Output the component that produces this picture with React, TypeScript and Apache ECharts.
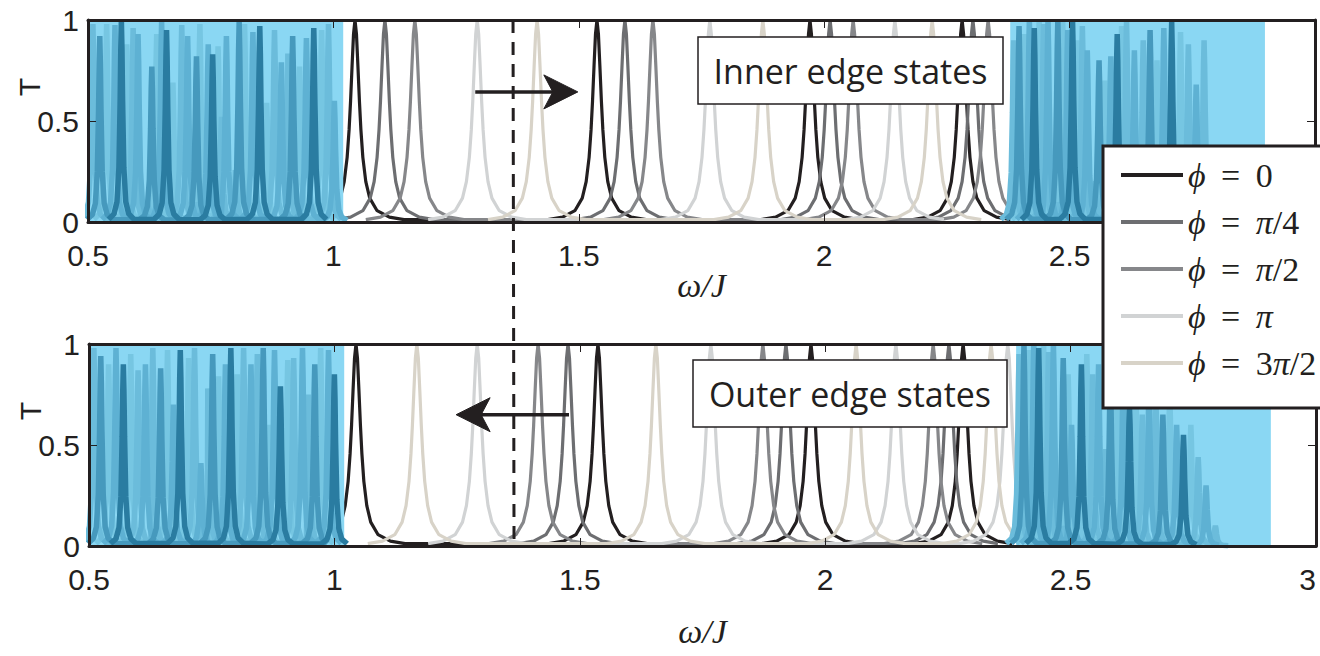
import React, { useEffect, useRef } from 'react';
import * as echarts from 'echarts';

// ---------- data ----------
const PHI_NAMES = ['ϕ = 0', 'ϕ = π/4', 'ϕ = π/2', 'ϕ = π', 'ϕ = 3π/2'];
const PHI_COLORS = ['#231f20', '#6d6e71', '#86878a', '#d1d3d4', '#d8d3c8'];

// resonance peak positions (ω/J) of the inner edge states (top panel)
const INNER_PHI_0 = [1.044, 1.537, 1.971, 2.281];
const INNER_PHI_PI4 = [1.105, 1.594, 2.012, 2.303];
const INNER_PHI_PI2 = [1.166, 1.651, 2.059, 2.334];
const INNER_PHI_PI = [1.293, 1.767, 2.144];
const INNER_PHI_3PI2 = [1.415, 1.875, 2.220];

// resonance peak positions (ω/J) of the outer edge states (bottom panel)
const OUTER_PHI_0 = [1.044, 1.537, 1.971, 2.281];
const OUTER_PHI_PI4 = [1.476, 1.920, 2.252];
const OUTER_PHI_PI2 = [1.415, 1.873, 2.220];
const OUTER_PHI_PI = [1.291, 1.767, 2.144, 2.372];
const OUTER_PHI_3PI2 = [1.168, 1.655, 2.063, 2.338];

// shape of one edge-state resonance (offset in ω/J, T)
const PEAK_DX = [-0.1, -0.07, -0.045, -0.03, -0.022, -0.016, -0.012, -0.009, -0.006, -0.003, 0, 0.003, 0.006, 0.009, 0.012, 0.016, 0.022, 0.03, 0.045, 0.07, 0.1];
const PEAK_T = [0.012, 0.024, 0.056, 0.118, 0.2, 0.32, 0.457, 0.6, 0.77, 0.93, 1, 0.93, 0.77, 0.6, 0.457, 0.32, 0.2, 0.118, 0.056, 0.024, 0.012];

// bulk bands (shaded)
const TOP_BANDS = [[0.5, 1.02], [2.379, 2.898]];
const BOTTOM_BANDS = [[0.5, 1.02], [2.389, 2.908]];

// bulk-state resonances (position, peak T)
const TOP_BULK_LOW_X = [0.510, 0.524, 0.538, 0.555, 0.568, 0.579, 0.592, 0.602, 0.612, 0.630, 0.640, 0.650, 0.660, 0.673, 0.691, 0.703, 0.712, 0.721, 0.728, 0.745, 0.754, 0.765, 0.772, 0.782, 0.795, 0.808, 0.819, 0.836, 0.850, 0.864, 0.880, 0.894, 0.906, 0.917, 0.931, 0.945, 0.960, 0.976, 0.990, 1.002];
const TOP_BULK_LOW_T = [0.98, 0.92, 0.98, 0.975, 1.0, 0.88, 0.96, 0.93, 0.95, 0.77, 0.93, 0.99, 0.95, 0.69, 0.975, 0.92, 0.97, 0.82, 0.98, 0.88, 0.83, 0.87, 0.52, 0.92, 0.95, 0.99, 0.98, 0.94, 0.97, 0.59, 0.95, 0.79, 0.97, 0.92, 0.77, 0.91, 0.96, 0.95, 0.98, 0.6];
const TOP_BULK_HIGH_X = [2.386, 2.397, 2.408, 2.418, 2.428, 2.438, 2.447, 2.456, 2.466, 2.476, 2.486, 2.496, 2.506, 2.516, 2.526, 2.536, 2.548, 2.560, 2.572, 2.584, 2.597, 2.606, 2.616, 2.632, 2.650, 2.664, 2.678, 2.692, 2.708, 2.726, 2.742, 2.758, 2.774];
const TOP_BULK_HIGH_T = [0.9, 0.97, 0.93, 1.0, 0.96, 1.0, 0.98, 1.0, 0.97, 1.0, 0.99, 0.95, 1.0, 0.9, 0.97, 0.85, 0.75, 0.8, 0.7, 0.82, 0.93, 0.97, 0.99, 0.85, 0.9, 0.95, 0.8, 0.96, 0.99, 0.94, 0.88, 0.68, 0.9];
const BOTTOM_BULK_LOW_X = [0.510, 0.524, 0.540, 0.555, 0.570, 0.585, 0.600, 0.615, 0.630, 0.646, 0.660, 0.672, 0.686, 0.703, 0.715, 0.728, 0.742, 0.752, 0.764, 0.778, 0.789, 0.802, 0.815, 0.830, 0.843, 0.855, 0.866, 0.878, 0.890, 0.905, 0.917, 0.935, 0.947, 0.960, 0.972, 0.988, 1.000];
const BOTTOM_BULK_LOW_T = [0.98, 0.94, 0.9, 0.98, 0.9, 0.95, 0.87, 0.9, 0.98, 0.88, 0.97, 0.7, 0.97, 0.93, 0.98, 0.41, 0.78, 0.95, 0.84, 0.9, 0.98, 0.85, 0.98, 0.9, 0.95, 0.98, 0.6, 0.97, 0.79, 0.92, 0.93, 0.98, 0.75, 0.9, 0.98, 0.97, 0.85];
const BOTTOM_BULK_HIGH_X = [2.395, 2.405, 2.415, 2.425, 2.435, 2.445, 2.455, 2.465, 2.475, 2.485, 2.495, 2.502, 2.522, 2.533, 2.545, 2.557, 2.569, 2.581, 2.594, 2.607, 2.620, 2.633, 2.646, 2.660, 2.674, 2.688, 2.702, 2.716, 2.730, 2.745, 2.760, 2.776, 2.795];
const BOTTOM_BULK_HIGH_T = [0.95, 1.0, 0.97, 1.0, 0.98, 1.0, 0.96, 1.0, 0.98, 0.93, 0.85, 0.6, 0.9, 0.95, 0.85, 0.9, 0.8, 0.85, 0.75, 0.8, 0.7, 0.75, 0.65, 0.8, 0.7, 0.65, 0.75, 0.6, 0.55, 0.6, 0.44, 0.3, 0.1];

// shape of one bulk resonance (offset, fraction of its peak)
const SPIKE_DX = [-0.026, -0.015, -0.009, -0.005, -0.0025, -0.0012, 0, 0.0012, 0.0025, 0.005, 0.009, 0.015, 0.026];
const SPIKE_T = [0.013, 0.04, 0.1, 0.27, 0.6, 0.86, 1, 0.86, 0.6, 0.27, 0.1, 0.04, 0.013];

const BULK_BG = '#8ad7f3';
const BULK_COLORS = ['#76c6e2', '#6bbcdb', '#5eb1d3', '#4699bd', '#2a7ca1'];
const TONE_ORDER = [1, 3, 0, 2, 4, 0, 1, 2];

// annotations
const DASH_OMEGA = 1.366;
const TOP_ARROW = { from: [1.289, 0.644], to: [1.498, 0.644] };
const BOTTOM_ARROW = { from: [1.478, 0.65], to: [1.248, 0.65] };

const INK = '#231f20';

// ---------- helpers ----------
function peakLine(centers: number[]) {
  const out: number[][] = [];
  centers.forEach((c) => {
    PEAK_DX.forEach((d, k) => out.push([+(c + d).toFixed(4), PEAK_T[k]]));
  });
  return out;
}

function bulkSeries(xs: number[], ts: number[], xi: number, yi: number) {
  const groups: number[][][] = BULK_COLORS.map(() => []);
  xs.forEach((x, i) => {
    const g = groups[TONE_ORDER[i % TONE_ORDER.length]];
    SPIKE_DX.forEach((d, k) => {
      const px = +(x + d).toFixed(4);
      const last = g.length ? g[g.length - 1][0] : -Infinity;
      if (px > last) g.push([px, +(ts[i] * SPIKE_T[k]).toFixed(3)]);
    });
  });
  return groups.map((data, t) => ({
    type: 'line',
    xAxisIndex: xi,
    yAxisIndex: yi,
    data,
    symbol: 'none',
    showSymbol: false,
    silent: true,
    z: 4,
    lineStyle: { color: BULK_COLORS[t], width: 5.5 },
  }));
}

function bandSeries(bands: number[][], xi: number, yi: number) {
  return bands.map((b) => ({
    type: 'line',
    xAxisIndex: xi,
    yAxisIndex: yi,
    data: [[b[0], 1], [b[1], 1]],
    symbol: 'none',
    showSymbol: false,
    silent: true,
    z: 3,
    lineStyle: { width: 0, color: BULK_BG },
    areaStyle: { color: BULK_BG, opacity: 1 },
  }));
}

function phiSeries(sets: number[][], xi: number, yi: number) {
  return sets.map((c, i) => ({
    type: 'line',
    name: PHI_NAMES[i],
    xAxisIndex: xi,
    yAxisIndex: yi,
    data: peakLine(c),
    symbol: 'none',
    showSymbol: false,
    silent: true,
    z: 2,
    color: PHI_COLORS[i],
    lineStyle: { color: PHI_COLORS[i], width: 3.2 },
  }));
}

const tickLabel = { fontFamily: 'Liberation Sans', fontSize: 30, color: INK };
const lineSt = { color: INK, width: 3 };

function xAxes(grid: number, nameGap: number, showMax: boolean) {
  return [
    {
      type: 'value', gridIndex: grid, min: 0.5, max: 3, interval: 0.5, position: 'bottom', z: 10,
      axisLine: { show: true, onZero: false, lineStyle: lineSt },
      axisTick: { show: true, inside: true, length: 8, lineStyle: { color: INK, width: 1 } },
      axisLabel: { ...tickLabel, margin: 18, showMaxLabel: showMax, alignMaxLabel: 'right' },
      splitLine: { show: false },
      name: 'ω/J', nameLocation: 'middle', nameGap, nameMoveOverlap: false,
      nameTextStyle: { fontFamily: 'Liberation Serif', fontStyle: 'italic', fontSize: 34, color: INK, lineHeight: 34 },
    },
    {
      type: 'value', gridIndex: grid, min: 0.5, max: 3, interval: 0.5, position: 'top', z: 10,
      axisLine: { show: true, onZero: false, lineStyle: lineSt },
      axisTick: { show: true, inside: true, length: 8, lineStyle: { color: INK, width: 1 } },
      axisLabel: { show: false },
      splitLine: { show: false },
    },
  ];
}

function yAxes(grid: number) {
  return [
    {
      type: 'value', gridIndex: grid, min: 0, max: 1, interval: 0.5, position: 'left', z: 10,
      axisLine: { show: true, onZero: false, lineStyle: lineSt },
      axisTick: { show: true, inside: true, length: 8, lineStyle: { color: INK, width: 1 } },
      axisLabel: { ...tickLabel, margin: 9 },
      splitLine: { show: false },
      name: 'T', nameLocation: 'middle', nameGap: 44, nameRotate: 90, nameMoveOverlap: false,
      nameTextStyle: { fontFamily: 'Liberation Sans', fontSize: 30, color: INK, lineHeight: 30, padding: [0, 0, 0, 68] },
    },
    {
      type: 'value', gridIndex: grid, min: 0, max: 1, interval: 0.5, position: 'right', z: 10,
      axisLine: { show: true, onZero: false, lineStyle: lineSt },
      axisTick: { show: true, inside: true, length: 8, lineStyle: { color: INK, width: 1 } },
      axisLabel: { show: false },
      splitLine: { show: false },
    },
  ];
}

function legendText(name: string) {
  return name
    .replace(/ϕ/g, '{i|ϕ}')
    .replace(/π/g, '{i|π}')
    .replace(' = ', '{e| = }');
}

export default function App() {
  const ref = useRef<HTMLDivElement>(null);
  useEffect(() => {
    if (!ref.current) return;
    const chart = echarts.init(ref.current, null, { renderer: 'svg' });
    const option: any = {
      animation: false,
      backgroundColor: '#ffffff',
      grid: [
        { left: 88, top: 20, width: 1227, height: 202, outerBoundsMode: 'none', containLabel: false },
        { left: 89, top: 344, width: 1227, height: 202, outerBoundsMode: 'none', containLabel: false },
      ],
      xAxis: [...xAxes(0, 46, false), ...xAxes(1, 68, true)],
      yAxis: [...yAxes(0), ...yAxes(1)],
      legend: {
        data: PHI_NAMES,
        orient: 'vertical',
        left: 1103,
        top: 146,
        z: 20,
        selectedMode: false,
        backgroundColor: '#ffffff',
        borderColor: INK,
        borderWidth: 3,
        borderRadius: 0,
        padding: [12, 60, 28, 18],
        icon: 'rect',
        itemWidth: 62,
        itemHeight: 4,
        itemGap: 13,
        formatter: legendText,
        textStyle: {
          fontFamily: 'Liberation Serif', fontSize: 34, color: INK, lineHeight: 34,
          rich: {
            i: { fontFamily: 'Liberation Serif', fontStyle: 'italic', fontSize: 34, color: INK },
            e: { fontFamily: 'Liberation Serif', fontSize: 34, color: INK, padding: [0, 7, 0, 7] },
          },
        },
      },
      series: [
        ...phiSeries([INNER_PHI_0, INNER_PHI_PI4, INNER_PHI_PI2, INNER_PHI_PI, INNER_PHI_3PI2], 0, 0),
        ...phiSeries([OUTER_PHI_0, OUTER_PHI_PI4, OUTER_PHI_PI2, OUTER_PHI_PI, OUTER_PHI_3PI2], 2, 2),
        ...bandSeries(TOP_BANDS, 0, 0),
        ...bandSeries(BOTTOM_BANDS, 2, 2),
        ...bulkSeries(TOP_BULK_LOW_X, TOP_BULK_LOW_T, 0, 0),
        ...bulkSeries(TOP_BULK_HIGH_X, TOP_BULK_HIGH_T, 0, 0),
        ...bulkSeries(BOTTOM_BULK_LOW_X, BOTTOM_BULK_LOW_T, 2, 2),
        ...bulkSeries(BOTTOM_BULK_HIGH_X, BOTTOM_BULK_HIGH_T, 2, 2),
      ],
    };
    chart.setOption(option);

    const px = (g: number, x: number, y: number) =>
      chart.convertToPixel({ gridIndex: g } as any, [x, y]) as unknown as number[];

    const arrow = (g: number, a: { from: number[]; to: number[] }) => {
      const p0 = px(g, a.from[0], a.from[1]);
      const p1 = px(g, a.to[0], a.to[1]);
      const dir = p1[0] > p0[0] ? 1 : -1;
      const y = p1[1];
      return [
        { type: 'line', z: 30, shape: { x1: p0[0], y1: y, x2: p1[0] - dir * 24, y2: y }, style: { stroke: INK, lineWidth: 3.5 } },
        {
          type: 'polygon', z: 30,
          shape: { points: [[p1[0], y], [p1[0] - dir * 34, y - 17], [p1[0] - dir * 25, y], [p1[0] - dir * 34, y + 17]] },
          style: { fill: INK, stroke: INK, lineWidth: 1 },
        },
      ];
    };

    const dTop = px(0, DASH_OMEGA, 1);
    const dBot = px(1, DASH_OMEGA, 0);

    const box = (x: number, y: number, w: number, h: number, text: string) => [
      { type: 'rect', z: 30, shape: { x, y, width: w, height: h }, style: { fill: '#ffffff', stroke: INK, lineWidth: 1.5 } },
      {
        type: 'text', z: 31, x: x + w / 2, y: y + h / 2,
        style: { text, fontFamily: 'Open Sans', fontSize: 34, fill: INK, align: 'center', verticalAlign: 'middle' },
      },
    ];

    chart.setOption({
      graphic: [
        {
          type: 'line', z: 25,
          shape: { x1: dTop[0], y1: dTop[1], x2: dBot[0], y2: dBot[1] },
          style: { stroke: INK, lineWidth: 3, lineDash: [13, 9] },
        },
        ...arrow(0, TOP_ARROW),
        ...arrow(1, BOTTOM_ARROW),
        ...box(698, 37, 305, 67, 'Inner edge states'),
        ...box(693, 360, 314, 67, 'Outer edge states'),
      ],
    });

    return () => chart.dispose();
  }, []);
  return (
    <div
      ref={ref}
      style={{ position: 'fixed', left: 0, top: 0, width: 1320, height: 656, background: '#fff' }}
    />
  );
}
